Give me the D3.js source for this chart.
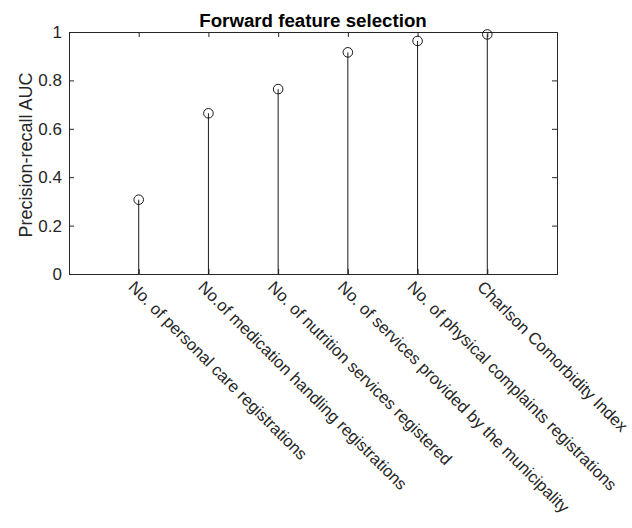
<!DOCTYPE html>
<html>
<head>
<meta charset="utf-8">
<script src="https://cdn.jsdelivr.net/npm/d3@7"></script>
<style>
  body { margin: 0; background: #fff; }
  svg { font-family: "Liberation Sans", Arial, sans-serif; }
</style>
</head>
<body>
<svg id="chart" width="632" height="528"></svg>
<script>
// features in the order they were added
const features = [
  "No. of personal care registrations",
  "No.of medication handling registrations",
  "No. of nutrition services registered",
  "No. of services provided by the municipality",
  "No. of physical complaints registrations",
  "Charlson Comorbidity Index"
];
const aucValues = [0.307, 0.664, 0.764, 0.916, 0.963, 0.99];
const yTicks = [0, 0.2, 0.4, 0.6, 0.8, 1];

const margin = { left: 69, right: 75, top: 32, bottom: 254 };
const width = 632 - margin.left - margin.right;
const height = 528 - margin.top - margin.bottom;
const axisColor = "#262626";

const svg = d3.select("#chart");
const g = svg.append("g")
  .attr("transform", `translate(${margin.left},${margin.top})`);

const x = d3.scaleLinear().domain([0, features.length + 1]).range([0, width]);
const y = d3.scaleLinear().domain([0, 1]).range([height, 0]);

const idx = d3.range(1, features.length + 1);

// inward ticks on all four sides (matlab box style)
g.append("g")
  .call(d3.axisLeft(y).tickValues(yTicks).tickSize(-5).tickPadding(7)
    .tickFormat(d => d === 0 || d === 1 ? d3.format("d")(d) : d3.format(".1f")(d)))
  .call(a => a.select(".domain").attr("stroke", axisColor))
  .call(a => a.selectAll("line").attr("stroke", axisColor))
  .call(a => a.selectAll("text").attr("fill", axisColor).style("font-size", "17px"));

g.append("g")
  .attr("transform", `translate(${width},0)`)
  .call(d3.axisRight(y).tickValues(yTicks).tickSize(-5).tickFormat(""))
  .call(a => a.select(".domain").attr("stroke", axisColor))
  .call(a => a.selectAll("line").attr("stroke", axisColor));

g.append("g")
  .call(d3.axisTop(x).tickValues(idx).tickSize(-5).tickFormat(""))
  .call(a => a.select(".domain").attr("stroke", axisColor))
  .call(a => a.selectAll("line").attr("stroke", axisColor));

g.append("g")
  .attr("transform", `translate(0,${height})`)
  .call(d3.axisBottom(x).tickValues(idx).tickSize(-5).tickFormat(""))
  .call(a => a.select(".domain").attr("stroke", axisColor))
  .call(a => a.selectAll("line").attr("stroke", axisColor));

// rotated category labels
g.selectAll(".xlabel")
  .data(features)
  .join("text")
  .attr("class", "xlabel")
  .attr("transform", (d, i) => `translate(${x(i + 1) - 7},${height + 10}) rotate(45)`)
  .attr("dy", "0.35em")
  .attr("fill", axisColor)
  .style("font-size", "16.6px")
  .text(d => d);

// stems
g.selectAll(".stem")
  .data(aucValues)
  .join("line")
  .attr("class", "stem")
  .attr("x1", (d, i) => x(i + 1))
  .attr("x2", (d, i) => x(i + 1))
  .attr("y1", y(0))
  .attr("y2", d => y(d))
  .attr("stroke", "#1a1a1a")
  .attr("stroke-width", 1);

g.selectAll(".mark")
  .data(aucValues)
  .join("circle")
  .attr("class", "mark")
  .attr("cx", (d, i) => x(i + 1))
  .attr("cy", d => y(d))
  .attr("r", 4.8)
  .attr("fill", "none")
  .attr("stroke", "#1a1a1a")
  .attr("stroke-width", 1);

// title
svg.append("text")
  .attr("x", margin.left + width / 2)
  .attr("y", 27)
  .attr("text-anchor", "middle")
  .style("font-size", "18.7px")
  .style("font-weight", "bold")
  .attr("fill", "#000")
  .text("Forward feature selection");

// y label
svg.append("text")
  .attr("transform", `translate(32,155) rotate(-90)`)
  .attr("text-anchor", "middle")
  .style("font-size", "18px")
  .attr("fill", axisColor)
  .text("Precision-recall AUC");
</script>
</body>
</html>
